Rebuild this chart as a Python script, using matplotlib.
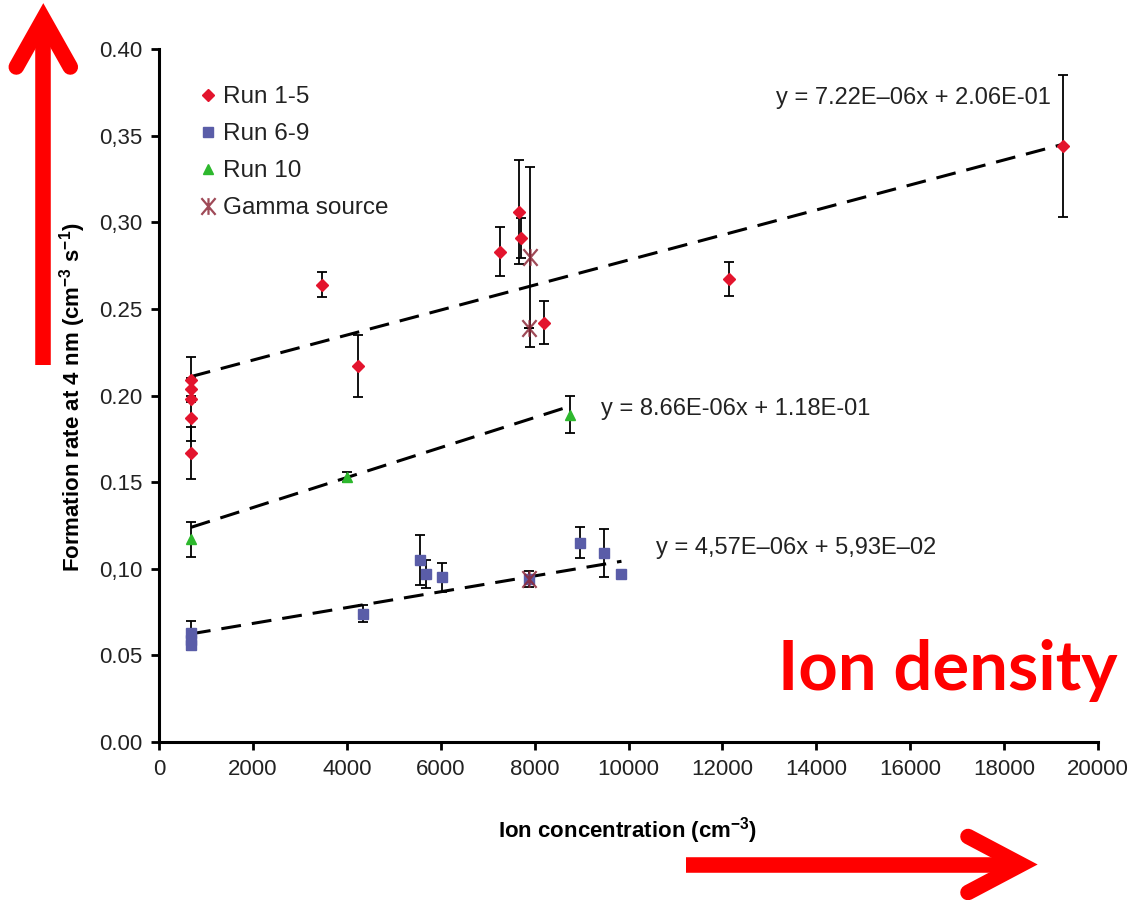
import matplotlib
matplotlib.use("Agg")
import matplotlib.pyplot as plt
from matplotlib.lines import Line2D
from matplotlib.path import Path

plt.rcParams["font.family"] = ["Liberation Sans", "DejaVu Sans"]
plt.rcParams["mathtext.fontset"] = "custom"
plt.rcParams["mathtext.rm"] = "Liberation Sans"
plt.rcParams["mathtext.bf"] = "Liberation Sans:bold"

# ---- measurements -------------------------------------------------------
run15_x = [680, 680, 680, 680, 680, 3480, 4230, 7260, 7670, 7710, 8190, 12150, 19260]
run15_y = [0.209, 0.204, 0.198, 0.187, 0.167, 0.264, 0.217, 0.283, 0.306, 0.291, 0.242, 0.267, 0.344]
run15_err = [0.013, 0.006, 0.0, 0.013, 0.015, 0.007, 0.018, 0.014, 0.030, 0.0115, 0.0125, 0.0098, 0.041]

run69_x = [680, 680, 680, 4350, 5550, 5690, 6020, 7890, 8970, 9480, 9850]
run69_y = [0.063, 0.059, 0.056, 0.074, 0.105, 0.097, 0.095, 0.094, 0.115, 0.109, 0.097]
run69_err = [0.007, 0.0, 0.003, 0.005, 0.0145, 0.008, 0.0085, 0.0, 0.009, 0.0137, 0.0]

run10_x = [680, 4000, 8750]
run10_y = [0.117, 0.153, 0.189]
run10_err = [0.010, 0.003, 0.0105]

gamma_x = [7900, 7890, 7890]
gamma_y = [0.280, 0.239, 0.094]
gamma_err = [0.052, 0.0, 0.0045]

# linear fits (slope, intercept) and the x-range each one covers
fit_slopes = [7.22e-6, 8.66e-6, 4.57e-6]
fit_intercepts = [0.206, 0.118, 0.0593]
fit_x_start = [680, 680, 680]
fit_x_end = [19260, 8750, 9850]
fit_labels = ["y = 7.22E\u201306x + 2.06E-01",
              "y = 8.66E-06x + 1.18E-01",
              "y = 4,57E\u201306x + 5,93E\u201302"]
fit_label_x = [13140, 9415, 10580]
fit_label_y = [0.372, 0.192, 0.112]

x_ticks = list(range(0, 20001, 2000))
y_ticks = [0.00, 0.05, 0.10, 0.15, 0.20, 0.25, 0.30, 0.35, 0.40]
y_tick_labels = ["0.00", "0.05", "0,10", "0.15", "0.20", "0.25", "0,30", "0,35", "0.40"]

# ---- figure -------------------------------------------------------------
W, H = 1132, 900
fig = plt.figure(figsize=(W / 100, H / 100), dpi=100)
ax = fig.add_axes([159 / W, 1 - 742 / H, (1098 - 159) / W, (742 - 49) / H])

text_col = "#222222"
red = "#E3142D"
blue = "#5A5DA8"
green = "#2DB82D"
gamma_col = "#8E2A3A"

# gamma-source marker: an X crossed by a vertical stroke
gamma_marker = Path([(-0.85, -1), (0.85, 1), (-0.85, 1), (0.85, -1), (0, -1), (0, 1)],
                    [Path.MOVETO, Path.LINETO, Path.MOVETO, Path.LINETO, Path.MOVETO, Path.LINETO])

# trend lines
for s, b, x0, x1 in zip(fit_slopes, fit_intercepts, fit_x_start, fit_x_end):
    ax.plot([x0, x1], [s * x0 + b, s * x1 + b], color="black", lw=2.2,
            linestyle=(0, (6.5, 3.6)), zorder=2)

err_kw = dict(fmt="none", ecolor="black", elinewidth=1.3, capsize=3.6, capthick=1.3, zorder=3)
ax.errorbar(run15_x, run15_y, yerr=run15_err, **err_kw)
ax.errorbar(run69_x, run69_y, yerr=run69_err, **err_kw)
ax.errorbar(run10_x, run10_y, yerr=run10_err, **err_kw)
ax.errorbar(gamma_x, gamma_y, yerr=gamma_err, **err_kw)

ax.plot(run15_x, run15_y, ls="none", marker="D", ms=5.8, color=red, mec=red,
        label="Run 1-5", zorder=4)
ax.plot(run69_x, run69_y, ls="none", marker="s", ms=7.5, color=blue, mec=blue,
        label="Run 6-9", zorder=4)
ax.plot(run10_x, run10_y, ls="none", marker="^", ms=7.5, color=green, mec=green,
        label="Run 10", zorder=4)
ax.plot(gamma_x, gamma_y, ls="none", marker=gamma_marker, ms=12, mew=1.6,
        mec=gamma_col, mfc="none", alpha=0.85, label="Gamma source", zorder=5)

for lbl, lx, ly in zip(fit_labels, fit_label_x, fit_label_y):
    ax.text(lx, ly, lbl, fontsize=17, color=text_col, ha="left", va="center")

ax.set_xlim(0, 20000)
ax.set_ylim(0, 0.40)
ax.set_xticks(x_ticks)
ax.set_xticklabels([str(v) for v in x_ticks])
ax.set_yticks(y_ticks)
ax.set_yticklabels(y_tick_labels)
for side in ("top", "right"):
    ax.spines[side].set_visible(False)
for side in ("left", "bottom"):
    ax.spines[side].set_linewidth(2.2)
ax.tick_params(direction="out", length=6, width=2, labelsize=16,
               labelcolor=text_col, pad=6)

leg = ax.legend(loc="upper left", bbox_to_anchor=((196 - 159) / 939, (742 - 86) / 693),
                frameon=False, fontsize=17.5, handlelength=1.0, handletextpad=0.12,
                labelspacing=0.62, borderpad=0, borderaxespad=0, numpoints=1)
for t in leg.get_texts():
    t.set_color(text_col)

fig.text(73 / W, 1 - 397 / H,
         r"Formation rate at 4 nm (cm$^{\mathbf{-3}}$ s$^{\mathbf{-1}}$)",
         rotation=90, ha="center", va="center", fontsize=16, fontweight="bold",
         color="black")
fig.text(628 / W, 1 - 831 / H, r"Ion concentration (cm$^{\mathbf{-3}}$)",
         ha="center", va="center", fontsize=16, fontweight="bold", color="black")

# ---- red annotations ----------------------------------------------------
def px(points):
    return [p[0] / W for p in points], [1 - p[1] / H for p in points]

def arrow(shaft, head):
    xs, ys = px(shaft)
    fig.add_artist(Line2D(xs, ys, transform=fig.transFigure, color="#FF0000",
                          lw=11.2, solid_capstyle="butt"))
    xs, ys = px(head)
    fig.add_artist(Line2D(xs, ys, transform=fig.transFigure, color="#FF0000",
                          lw=11.2, solid_capstyle="round", solid_joinstyle="miter"))

arrow([(43.3, 365), (43.3, 25)], [(16.3, 67), (43.3, 19), (70.3, 67)])
arrow([(686, 864.5), (1015, 864.5)], [(968, 836.5), (1021, 864.5), (968, 892.5)])

fig.text(778 / W, 1 - 690 / H, "Ion density", fontsize=49.5, fontweight="bold",
         family=["Lato", "DejaVu Sans"], color="#FF0000", ha="left", va="baseline")

fig.savefig("out.png", dpi=100)
